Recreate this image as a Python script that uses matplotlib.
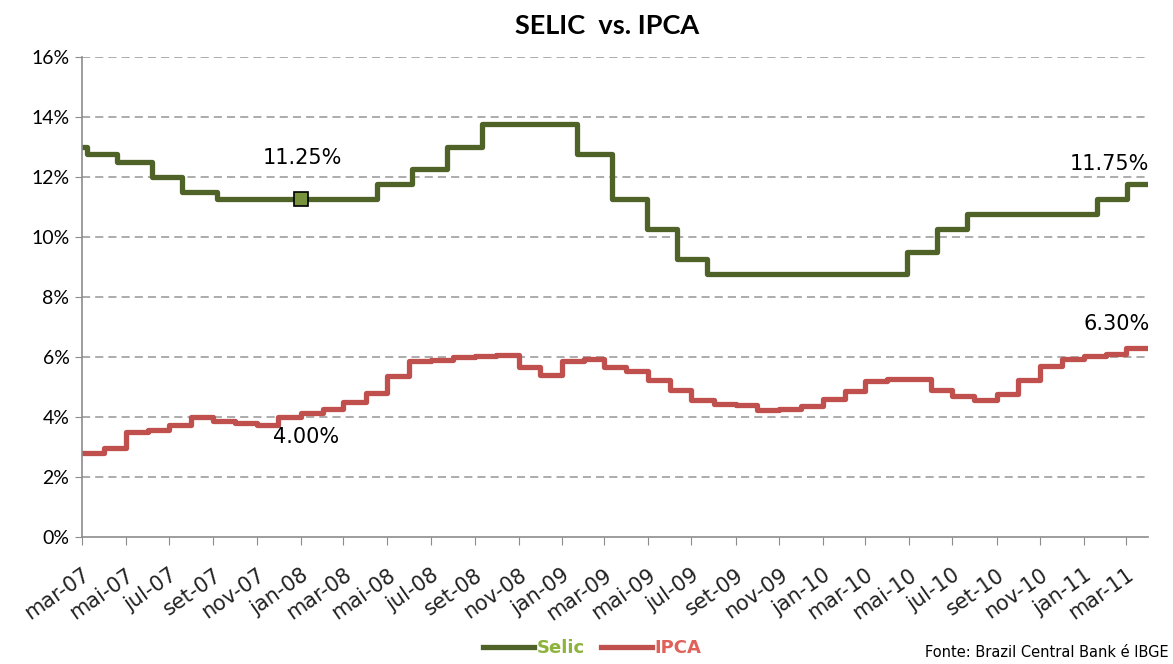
import matplotlib
matplotlib.use("Agg")
import matplotlib.pyplot as plt
import pandas as pd
from matplotlib.lines import Line2D

plt.rcParams['font.family'] = ['Lato', 'DejaVu Sans']

# Selic target rate: dates of each change and the new rate (%)
selic_dates = ['2007-03-01', '2007-03-08', '2007-04-19', '2007-06-07', '2007-07-19',
               '2007-09-06', '2008-04-17', '2008-06-05', '2008-07-24', '2008-09-11',
               '2009-01-22', '2009-03-12', '2009-04-30', '2009-06-11', '2009-07-23',
               '2010-04-29', '2010-06-10', '2010-07-22', '2011-01-20', '2011-03-03']
selic_values = [13.00, 12.75, 12.50, 12.00, 11.50,
                11.25, 11.75, 12.25, 13.00, 13.75,
                12.75, 11.25, 10.25, 9.25, 8.75,
                9.50, 10.25, 10.75, 11.25, 11.75]

# IPCA 12-month (%), one value per month, mar-07 .. mar-11
ipca_values = [2.80, 2.95, 3.49, 3.58, 3.74, 4.00, 3.88, 3.80, 3.73, 4.00,
               4.13, 4.27, 4.51, 4.80, 5.36, 5.86, 5.91, 6.01, 6.02, 6.08,
               5.67, 5.41, 5.88, 5.94, 5.67, 5.54, 5.22, 4.89, 4.56, 4.42,
               4.40, 4.22, 4.28, 4.36, 4.60, 4.86, 5.19, 5.28, 5.27, 4.89,
               4.69, 4.56, 4.78, 5.22, 5.69, 5.93, 6.02, 6.11, 6.30]
ipca_start = '2007-03-01'
series_end = '2011-04-01'

month_pt = ['jan', 'fev', 'mar', 'abr', 'mai', 'jun', 'jul', 'ago', 'set', 'out', 'nov', 'dez']

SELIC_COLOR = '#4F6228'
IPCA_COLOR = '#C0504D'
WIDE = ['DejaVu Sans']

end = pd.Timestamp(series_end)
s_x = list(pd.to_datetime(selic_dates)) + [end]
s_y = selic_values + [selic_values[-1]]
i_x = list(pd.date_range(ipca_start, periods=len(ipca_values), freq='MS')) + [end]
i_y = ipca_values + [ipca_values[-1]]

fig = plt.figure(figsize=(11.73, 6.64), dpi=100)
ax = fig.add_axes([0.0699, 0.1913, 0.9088, 0.7229])

ax.step(s_x, s_y, where='post', color=SELIC_COLOR, lw=3.8, solid_capstyle='round')
ax.step(i_x, i_y, where='post', color=IPCA_COLOR, lw=3.8, solid_capstyle='round')

ax.set_xlim(pd.Timestamp(ipca_start), end)
ax.set_ylim(0, 16)
ax.set_yticks(range(0, 17, 2))
ax.set_yticklabels([f'{v}%' for v in range(0, 17, 2)])
for v in range(2, 17, 2):
    ax.axhline(v, color='#A6A6A6', lw=1.3, ls=(0, (4.5, 2.8)), zorder=0)

ticks = pd.date_range(ipca_start, '2011-03-01', freq='2MS')
ax.set_xticks(ticks)
ax.set_xticklabels([f'{month_pt[t.month - 1]}-{t.strftime("%y")}' for t in ticks],
                   rotation=35, ha='right', va='top', rotation_mode='anchor',
                   family=WIDE, fontsize=15)

for side in ['top', 'right']:
    ax.spines[side].set_visible(False)
for side in ['left', 'bottom']:
    ax.spines[side].set_color('#8C8C8C')
    ax.spines[side].set_linewidth(1.2)
ax.tick_params(axis='y', colors='#8C8C8C', labelcolor='black', labelsize=14, length=5, pad=4)
ax.tick_params(axis='x', colors='#8C8C8C', labelcolor='#222222', length=6, pad=14)

# highlighted points
jan08 = pd.Timestamp('2008-01-01')
lbl = dict(textcoords='offset points', va='center', fontsize=15, family=WIDE)
ax.plot([jan08], [11.25], marker='s', ms=10, mfc='#77933C', mec='black', mew=1.2, zorder=5)
ax.annotate('11.25%', (jan08, 11.25), xytext=(1, 30), ha='center', **lbl)
ax.annotate('4.00%', (jan08, 4.00), xytext=(4, -14.5), ha='center', **lbl)
ax.annotate('11.75%', (end, selic_values[-1]), xytext=(1, 15), ha='right',
            annotation_clip=False, **lbl)
ax.annotate('6.30%', (end, ipca_values[-1]), xytext=(1, 17), ha='right',
            annotation_clip=False, **lbl)

fig.text(0.518, 0.961, 'SELIC  vs. IPCA', ha='center', va='center', fontsize=19.5, fontweight='bold')

handles = [Line2D([], [], color=SELIC_COLOR, lw=3.8), Line2D([], [], color=IPCA_COLOR, lw=3.8)]
leg = fig.legend(handles, ['Selic', 'IPCA'], loc='center', bbox_to_anchor=(0.505, 0.024),
                 ncol=2, frameon=False, handlelength=2.8, handletextpad=0.15,
                 columnspacing=0.9, prop={'family': WIDE, 'size': 13, 'weight': 'bold'})
for txt, c in zip(leg.get_texts(), ['#8DB33A', '#E0605A']):
    txt.set_color(c)

fig.text(0.996, 0.018, 'Fonte: Brazil Central Bank é IBGE', ha='right', va='center',
         fontsize=10.5, family=WIDE)

fig.savefig('out.png', dpi=100)
